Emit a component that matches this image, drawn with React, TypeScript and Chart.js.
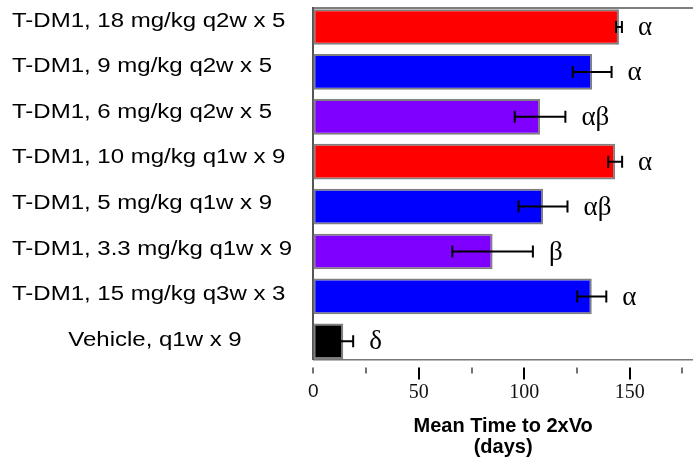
import React, { useEffect, useRef } from 'react';
import { Chart, registerables } from 'chart.js';

Chart.register(...registerables);

const categories = [
  'T-DM1, 18 mg/kg q2w x 5',
  'T-DM1, 9 mg/kg q2w x 5',
  'T-DM1, 6 mg/kg q2w x 5',
  'T-DM1, 10 mg/kg q1w x 9',
  'T-DM1, 5 mg/kg q1w x 9',
  'T-DM1, 3.3 mg/kg q1w x 9',
  'T-DM1, 15 mg/kg q3w x 3',
  'Vehicle, q1w x 9',
];
const meanDays = [144.9, 132.2, 107.5, 143.1, 108.9, 85.0, 132.0, 14.2];
const errorDays = [1.4, 9.2, 12.0, 3.3, 11.6, 19.1, 6.9, 4.7];
const significance = ['α', 'α', 'αβ', 'α', 'αβ', 'β', 'α', 'δ'];
const barColors = ['#FF0000', '#0000FF', '#7F00FF', '#FF0000', '#0000FF', '#7F00FF', '#0000FF', '#000000'];
const labeledTicks = [0, 50, 100, 150];
const tickMarks = [0, 25, 50, 75, 100, 125, 150, 175];
const longTickMarks = [50, 100, 150];
const axisTitle = ['Mean Time to 2xVo', '(days)'];

const SANS = '"Liberation Sans", Arial, sans-serif';
const SERIF = '"Liberation Serif", "Times New Roman", serif';

const overlayPlugin = {
  id: 'overlay',
  afterDatasetsDraw(chart: any) {
    const { ctx, scales } = chart;
    const x = scales.x;
    const y = scales.y;
    ctx.save();
    ctx.strokeStyle = '#000';
    ctx.lineWidth = 2;
    meanDays.forEach((m, i) => {
      const yc = y.getPixelForValue(i);
      const x1 = x.getPixelForValue(m - errorDays[i]);
      const x2 = x.getPixelForValue(m + errorDays[i]);
      ctx.beginPath();
      ctx.moveTo(x1, yc);
      ctx.lineTo(x2, yc);
      ctx.moveTo(x1, yc - 6);
      ctx.lineTo(x1, yc + 6);
      ctx.moveTo(x2, yc - 6);
      ctx.lineTo(x2, yc + 6);
      ctx.stroke();
      ctx.fillStyle = '#000';
      ctx.font = '27px ' + SERIF;
      ctx.textBaseline = 'middle';
      ctx.textAlign = 'left';
      ctx.fillText(significance[i], x2 + 16, yc + 1);
    });
    ctx.restore();
  },
  afterDraw(chart: any) {
    const { ctx, chartArea, scales } = chart;
    const x = scales.x;
    const y = scales.y;
    ctx.save();
    // top frame line
    ctx.strokeStyle = '#555';
    ctx.lineWidth = 1.5;
    ctx.beginPath();
    ctx.moveTo(chartArea.left, chartArea.top);
    ctx.lineTo(chartArea.right, chartArea.top);
    ctx.stroke();
    // tick marks below the axis
    tickMarks.forEach((v) => {
      const px = Math.round(x.getPixelForValue(v));
      const long = longTickMarks.includes(v);
      ctx.strokeStyle = long ? '#000' : '#444';
      ctx.lineWidth = long ? 2 : 1.5;
      ctx.beginPath();
      ctx.moveTo(px, chartArea.bottom + 8);
      ctx.lineTo(px, chartArea.bottom + (long ? 20 : 14));
      ctx.stroke();
    });
    // category labels (horizontally stretched sans text)
    ctx.fillStyle = '#000';
    ctx.font = '20px ' + SANS;
    ctx.textBaseline = 'middle';
    ctx.textAlign = 'left';
    const stretch = 1.2;
    categories.forEach((label, i) => {
      const yc = y.getPixelForValue(i) - 6 + i * 0.7;
      const w = ctx.measureText(label).width * stretch;
      const isControl = i === categories.length - 1;
      const left = isControl ? 155 - w / 2 : 12;
      ctx.save();
      ctx.translate(left, yc);
      ctx.scale(stretch, 1);
      ctx.fillText(label, 0, 0);
      ctx.restore();
    });
    ctx.restore();
  },
};

export default function App() {
  const canvasRef = useRef<HTMLCanvasElement | null>(null);

  useEffect(() => {
    document.body.style.margin = '0';
    const canvas = canvasRef.current;
    if (!canvas) return;
    const chart = new Chart(canvas, {
      type: 'bar',
      data: {
        datasets: [
          {
            data: meanDays.map((v, i) => ({ x: v, y: i })),
            backgroundColor: barColors,
            borderColor: '#808080',
            borderWidth: 2,
            borderSkipped: false,
            barPercentage: 0.795,
            categoryPercentage: 1,
          },
        ],
      },
      options: {
        indexAxis: 'y',
        animation: false,
        responsive: false,
        devicePixelRatio: 1,
        layout: { padding: { top: 8, right: 0, bottom: 0, left: 0 } },
        plugins: {
          legend: { display: false },
          tooltip: { enabled: false },
        },
        scales: {
          x: {
            type: 'linear',
            position: 'bottom',
            min: 0,
            max: 180,
            afterBuildTicks: (scale: any) => {
              scale.ticks = labeledTicks.map((v) => ({ value: v }));
            },
            afterFit: (scale: any) => {
              scale.height = 99.5;
            },
            grid: { display: false, drawTicks: false },
            border: { display: true, color: '#777', width: 1.5 },
            ticks: {
              padding: 21,
              maxRotation: 0,
              autoSkip: false,
              color: '#111',
              font: (ctx: any) =>
                ctx.tick && ctx.tick.value === 0
                  ? { family: SANS, size: 19 }
                  : { family: SERIF, size: 20 },
            },
            title: {
              display: true,
              text: axisTitle,
              color: '#000',
              font: { family: SANS, size: 20, weight: 'bold', lineHeight: 1.05 },
              padding: { top: 0, bottom: 1 },
            },
          },
          y: {
            type: 'linear',
            reverse: true,
            offset: false,
            min: -0.423,
            max: 7.405,
            afterBuildTicks: (scale: any) => {
              scale.ticks = categories.map((_, i) => ({ value: i }));
            },
            afterFit: (scale: any) => {
              scale.width = 313.3;
            },
            grid: { display: false, drawTicks: false },
            border: { display: true, color: '#555', width: 2 },
            ticks: { display: false },
          },
        },
      },
      plugins: [overlayPlugin],
    } as any);
    return () => chart.destroy();
  }, []);

  return (
    <div style={{ width: 693, height: 459 }}>
      <canvas ref={canvasRef} width={693} height={459} style={{ display: 'block' }} />
    </div>
  );
}
